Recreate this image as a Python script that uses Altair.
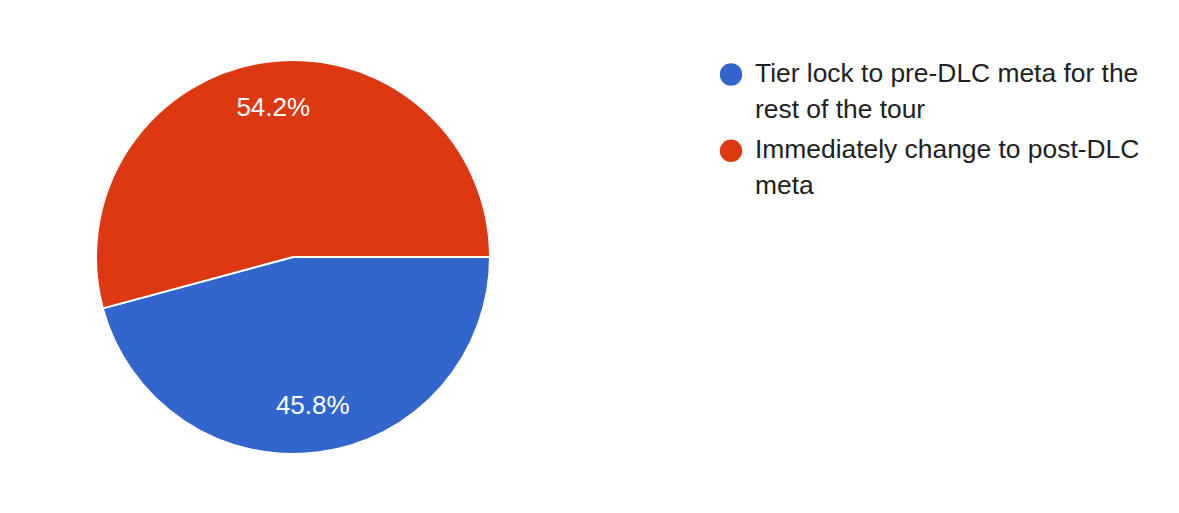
import altair as alt
import pandas as pd

# Survey answers and their share of responses (percent)
answers = [
    "Tier lock to pre-DLC meta for the rest of the tour",
    "Immediately change to post-DLC meta",
]
legend_lines = [
    "Tier lock to pre-DLC meta for the\nrest of the tour",
    "Immediately change to post-DLC\nmeta",
]
shares = [45.8, 54.2]
colors = ["#3366cc", "#dc3912"]

df = pd.DataFrame({
    "answer": answers,
    "legend": legend_lines,
    "share": shares,
    "row": list(range(len(answers))),
})

FONT = "Liberation Sans"
CX, CY, R = 293, 257, 197
HALF_PI = 1.5707963267948966

theta_scale = alt.Scale(range=[HALF_PI, HALF_PI + 6.283185307179586])
color_scale = alt.Scale(domain=answers, range=colors)

base = alt.Chart(df)

pie = base.mark_arc(radius=R, stroke="white", strokeWidth=2).encode(
    theta=alt.Theta("share:Q", stack=True, scale=theta_scale),
    color=alt.Color("answer:N", scale=color_scale, legend=None),
    order=alt.Order("row:Q"),
    x=alt.value(CX),
    y=alt.value(CY),
)

pct = base.mark_text(
    radius=150, font=FONT, fontSize=26, color="white",
    align="center", baseline="middle",
).transform_calculate(
    label="format(datum.share, '.1f') + '%'"
).encode(
    theta=alt.Theta("share:Q", stack=True, scale=theta_scale),
    order=alt.Order("row:Q"),
    text="label:N",
    x=alt.value(CX),
    y=alt.value(CY),
)

legend_y = alt.Y("row:Q", scale=alt.Scale(domain=[0, 1], range=[74.5, 150.8]), axis=None)

dots = base.mark_point(filled=True, shape="circle", size=500, opacity=1).encode(
    x=alt.value(731),
    y=legend_y,
    color=alt.Color("answer:N", scale=color_scale, legend=None),
)

labels = base.mark_text(
    font=FONT, fontSize=26.4, color="#212121", align="left",
    baseline="alphabetic", dy=7.2, lineBreak="\n", lineHeight=36,
).encode(
    x=alt.value(755),
    y=legend_y,
    text="legend:N",
)

chart = alt.layer(pie, pct, dots, labels).properties(
    width=1179, height=513, padding=0, autosize=alt.AutoSizeParams(type="none"),
    background="white",
).configure_view(stroke=None)

chart.save("out.html", embed_options={"renderer": "svg", "actions": False})
